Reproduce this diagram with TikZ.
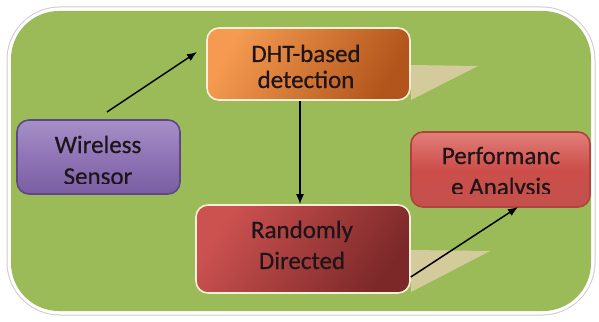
\documentclass[tikz,border=0pt]{standalone}
\usepackage{fontspec}
\setmainfont{Carlito}[UprightFeatures={FakeBold=0.6}]
\usetikzlibrary{arrows.meta}
\definecolor{bggreen}{HTML}{9BBB59}
\definecolor{shadowtan}{HTML}{D4CB9C}
\definecolor{txt}{HTML}{1E1519}
\definecolor{purpA}{HTML}{A690C8}
\definecolor{purpB}{HTML}{8F74B5}
\definecolor{purpC}{HTML}{7A5DA3}
\definecolor{purpEdge}{HTML}{5E4783}
\definecolor{orA}{HTML}{F59A50}
\definecolor{orB}{HTML}{B2551C}
\definecolor{redA}{HTML}{E27E79}
\definecolor{redB}{HTML}{CC4E4A}
\definecolor{redC}{HTML}{C4514D}
\definecolor{redEdge}{HTML}{B0423E}
\definecolor{rdA}{HTML}{CC5250}
\definecolor{rdB}{HTML}{7C2829}
\definecolor{cream}{HTML}{F8EFD8}
\tikzset{
  box/.style={rectangle, rounded corners=12pt, line width=1.6pt, inner sep=0pt},
  lbl/.style={font=\fontsize{25}{31}\selectfont, text=txt, inner sep=0pt, anchor=base},
  conn/.style={-{Latex[length=10pt,width=8pt]}, line width=1.5pt, black},
  shad/.style={fill=shadowtan, draw=none},
}
\begin{document}
\begin{tikzpicture}[x=1pt,y=-1pt]
\useasboundingbox (0,0) rectangle (599,321);
\fill[white] (0,0) rectangle (599,321);
% frame
\draw[gray!40, line width=7pt, rounded corners=50pt] (10,10) rectangle (592,312);
\draw[white, line width=5pt, rounded corners=50pt] (10,10) rectangle (592,312);
\fill[bggreen, rounded corners=48pt] (11,11) rectangle (591,311);
% shadows
\fill[shad] (411,65) -- (478,66) -- (411,100) -- cycle;
\fill[shad] (411,250) -- (490,251) -- (411,292) -- cycle;
% boxes
\node[box, draw=purpEdge, top color=purpA, bottom color=purpC, middle color=purpB,
      minimum width=163pt, minimum height=74pt] (ws) at (98.5,157) {};
\node[box, draw=cream, left color=orA, right color=orB, shading angle=60,
      minimum width=203pt, minimum height=72pt] (dht) at (308.5,64) {};
\node[box, draw=redEdge, top color=redA, bottom color=redC, middle color=redB,
      minimum width=179pt, minimum height=75pt] (perf) at (500.5,169.5) {};
\node[box, draw=cream, left color=rdA, right color=rdB, shading angle=55,
      minimum width=214pt, minimum height=88pt] (rand) at (303,249) {};
% texts
\begin{scope}
  \clip (20,124) rectangle (177,183);
  \node[lbl] (ws1) at (98,153) {Wireless};
  \node[lbl] (ws2) at (98,184.5) {Sensor};
\end{scope}
\node[lbl] (d1) at (306,62) {DHT-based};
\node[lbl] (d2) at (306,88) {detection};
\begin{scope}
  \clip (414,135) rectangle (587,193);
  \node[lbl] (p1) at (501,164) {Performanc};
  \node[lbl] (p2) at (501,195) {e Analysis};
\end{scope}
\node[lbl] (r1) at (302,238) {Randomly};
\node[lbl] (r2) at (302,269) {Directed};
% connectors
\coordinate (a1s) at (107,112);
\coordinate (a1e) at (197,52);
\coordinate (a3e) at (518,207);
\draw[conn] (a1s) -- (a1e);
\draw[conn] (dht.south -| 300,0) -- (rand.north -| 300,0);
\draw[conn] (rand.east |- 0,277) -- (a3e);
\end{tikzpicture}
\end{document}
